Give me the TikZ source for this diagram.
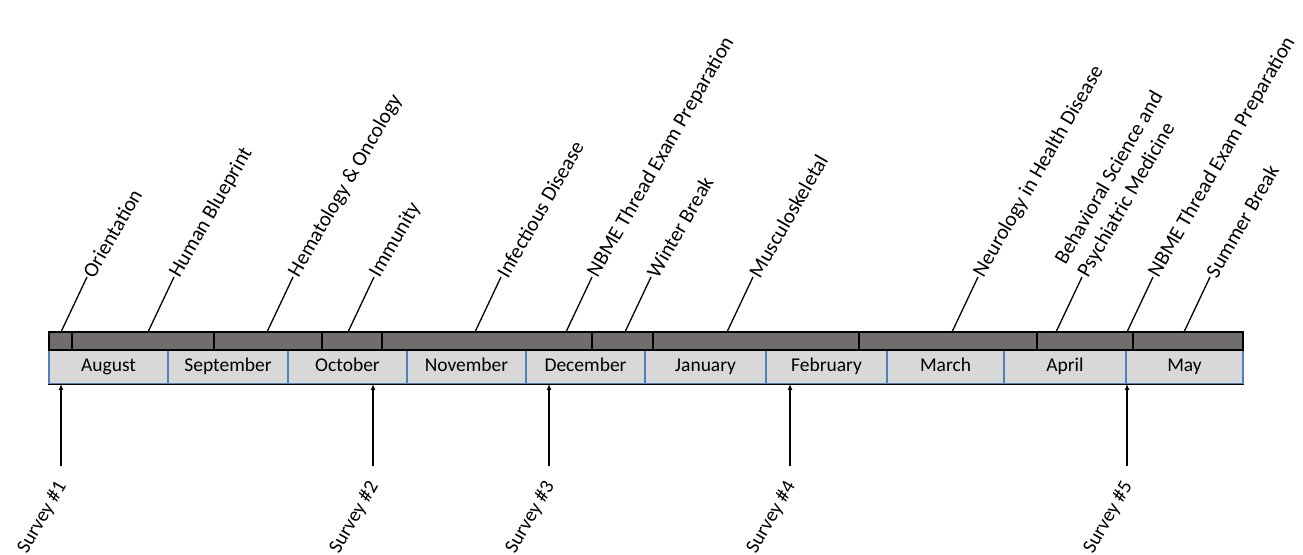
\documentclass[tikz,border=0pt]{standalone}
\usepackage{fontspec}
\setmainfont{Carlito}
\usetikzlibrary{arrows.meta}

\definecolor{bargray}{HTML}{716D6D}
\definecolor{cellgray}{HTML}{D8D8D8}
\definecolor{cellblue}{HTML}{4F81BD}

\tikzset{
  block/.style={draw=black, fill=bargray, line width=1.2pt},
  cell/.style={draw=cellblue, fill=cellgray, line width=1.2pt, minimum height=34pt,
    inner sep=0pt, text height=12pt, text depth=2pt, font=\fontsize{19.5}{22}\selectfont},
  topic/.style={rotate=60, anchor=west, inner sep=1pt, font=\fontsize{21}{26}\selectfont},
  survey/.style={rotate=60, anchor=east, inner sep=1pt, font=\fontsize{20}{24}\selectfont},
  pointer/.style={line width=1.3pt, -{Latex[length=6pt,width=5pt]}}
}

\begin{document}
\begin{tikzpicture}[x=1pt, y=1pt, line width=1.3pt]
      \useasboundingbox (0,0) rectangle (1303,554);
      % month row
      \node[cell, minimum width=119] (aug) at (108.5,187) {August};
      \node[cell, minimum width=120] (sep) at (228,187) {September};
      \node[cell, minimum width=119] (oct) at (347.5,187) {October};
      \node[cell, minimum width=119] (nov) at (466.5,187) {November};
      \node[cell, minimum width=119] (dec) at (585.5,187) {December};
      \node[cell, minimum width=121] (jan) at (705.5,187) {January};
      \node[cell, minimum width=121] (feb) at (826.5,187) {February};
      \node[cell, minimum width=117] (mar) at (945.5,187) {March};
      \node[cell, minimum width=122] (apr) at (1065,187) {April};
      \node[cell, minimum width=117] (may) at (1184.5,187) {May};
      \draw[line width=1.6pt] (aug.south west) -- (may.south east);
      % course blocks
      \draw[block] (49,204) rectangle (72,222);
      \draw[block] (72,204) rectangle (214,222);
      \draw[block] (214,204) rectangle (322,222);
      \draw[block] (322,204) rectangle (382,222);
      \draw[block] (382,204) rectangle (592,222);
      \draw[block] (592,204) rectangle (653,222);
      \draw[block] (653,204) rectangle (859,222);
      \draw[block] (859,204) rectangle (1037,222);
      \draw[block] (1037,204) rectangle (1133,222);
      \draw[block] (1133,204) rectangle (1243,222);
      % leader feet
      \coordinate (c1) at (61,222);
      \coordinate (c2) at (148,222);
      \coordinate (c3) at (267,222);
      \coordinate (c4) at (348,222);
      \coordinate (c5) at (475,222);
      \coordinate (c6) at (566,222);
      \coordinate (c7) at (625,222);
      \coordinate (c8) at (727,222);
      \coordinate (c9) at (952,222);
      \coordinate (c10) at (1056,222);
      \coordinate (c11) at (1127,222);
      \coordinate (c12) at (1184,222);
      % course names
      \node[topic] (orient) at (87,277) {Orientation};
      \node[topic] (human) at (174,277) {Human Blueprint};
      \node[topic] (hemat) at (293,277) {Hematology \& Oncology};
      \node[topic] (immun) at (374,277) {Immunity};
      \node[topic] (infect) at (501,277) {Infectious Disease};
      \node[topic] (nbmeA) at (592,277) {NBME Thread Exam Preparation};
      \node[topic] (winter) at (651,277) {Winter Break};
      \node[topic] (muscle) at (753,277) {Musculoskeletal};
      \node[topic] (neuro) at (978,277) {Neurology in Health Disease};
      \node[topic, align=left] (behav) at (1071.2,283.3) {Behavioral Science and\\Psychiatric Medicine};
      \node[topic] (nbmeB) at (1153,277) {NBME Thread Exam Preparation};
      \node[topic] (summer) at (1210,277) {Summer Break};
      \begin{scope}[-]
        \draw (c1) to (orient.west);
        \draw (c2) to (human.west);
        \draw (c3) to (hemat.west);
        \draw (c4) to (immun.west);
        \draw (c5) to (infect.west);
        \draw (c6) to (nbmeA.west);
        \draw (c7) to (winter.west);
        \draw (c8) to (muscle.west);
        \draw (c9) to (neuro.west);
        \draw (c10) to ([shift={(-30:12.5)}]behav.west);
        \draw (c11) to (nbmeB.west);
        \draw (c12) to (summer.west);
      \end{scope}
      % surveys
      \coordinate (a1) at (61,170);
      \coordinate (a2) at (373,170);
      \coordinate (a3) at (549,170);
      \coordinate (a4) at (790,170);
      \coordinate (a5) at (1127,170);
      \node[survey] (s1) at (63,72) {Survey \#1};
      \node[survey] (s2) at (375,72) {Survey \#2};
      \node[survey] (s3) at (551,72) {Survey \#3};
      \node[survey] (s4) at (792,72) {Survey \#4};
      \node[survey] (s5) at (1129,72) {Survey \#5};
      \draw[pointer] (s1.east) ++(-2,16) -- (a1);
      \draw[pointer] (s2.east) ++(-2,16) -- (a2);
      \draw[pointer] (s3.east) ++(-2,16) -- (a3);
      \draw[pointer] (s4.east) ++(-2,16) -- (a4);
      \draw[pointer] (s5.east) ++(-2,16) -- (a5);
\end{tikzpicture}
\end{document}
